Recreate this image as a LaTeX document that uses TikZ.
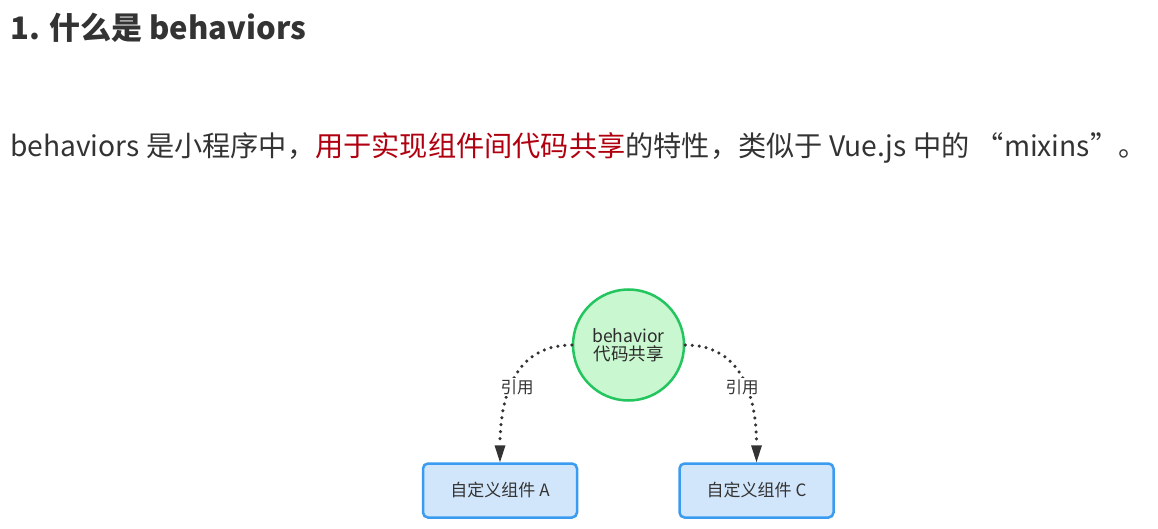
\documentclass[tikz,border=0pt]{standalone}
\usepackage{fontspec}
\setmainfont{Noto Sans CJK SC}
\usetikzlibrary{arrows.meta}
\definecolor{txt}{HTML}{333333}
\definecolor{redtxt}{HTML}{B00010}
\definecolor{gfill}{HTML}{C9F7CF}
\definecolor{gdraw}{HTML}{22C55E}
\definecolor{bfill}{HTML}{D2E6FB}
\definecolor{bdraw}{HTML}{3B9BF0}
\tikzset{
  refline/.style={line width=3.5pt, dash pattern=on 0pt off 7pt, line cap=round, draw=txt,
    -{Triangle[length=17pt,width=11pt,line cap=butt,line width=0pt,sep=0pt]}},
  comp/.style={rectangle, rounded corners=5pt, draw=bdraw, line width=2.5pt, fill=bfill,
    minimum width=154pt, minimum height=54pt, text=txt, font=\fontsize{17}{20}\selectfont},
  beh/.style={circle, draw=gdraw, line width=2.5pt, fill=gfill, minimum size=111pt, inner sep=0pt,
    text=txt!85!black, font=\fontsize{17.5}{21}\selectfont, align=center},
  lbl/.style={fill=white, inner sep=1pt, text=txt, font=\fontsize{16.5}{19}\selectfont}
}
\begin{document}
\begin{tikzpicture}[x=1pt,y=-1pt]
\useasboundingbox (0,0) rectangle (1158,529);
\node[anchor=base west, inner sep=0pt, text=txt, font=\fontsize{31}{35}\selectfont\bfseries] (title) at (10,40) {1. 什么是 behaviors};
\node[anchor=base west, inner sep=0pt, text=txt, font=\fontsize{28.2}{32}\selectfont] (intro) at (10,157)
  {behaviors 是小程序中，\textcolor{redtxt}{用于实现组件间代码共享}的特性，类似于 Vue.js 中的 “mixins”。};
\node[beh] (b) at (628.5,345) {behavior\\[-3pt]代码共享};
\node[comp] (a) at (500,490.5) {自定义组件\hspace{4pt}A};
\node[comp] (c) at (756.5,490.5) {自定义组件\hspace{4pt}C};
\draw[refline] (b.west) .. controls +(-60,0) and +(0,-60) .. (a.north);
\draw[refline] (b.east) .. controls +(60,0) and +(0,-60) .. (c.north);
\node[lbl] (la) at (517,387) {引用};
\node[lbl] (lc) at (742,387) {引用};
\end{tikzpicture}
\end{document}
